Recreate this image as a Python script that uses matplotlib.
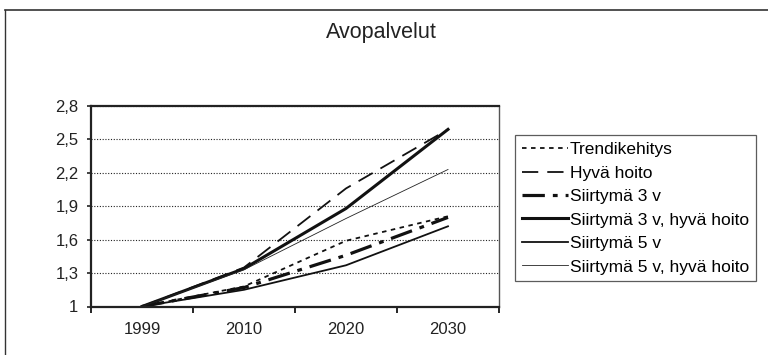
import matplotlib
matplotlib.use('Agg')
import matplotlib.pyplot as plt
from matplotlib.lines import Line2D

plt.rcParams['font.family'] = ['Liberation Sans', 'DejaVu Sans']

years = ['1999', '2010', '2020', '2030']
trendi = [1.0, 1.18, 1.59, 1.81]
hyva_hoito = [1.0, 1.35, 2.06, 2.59]
siirtyma3 = [1.0, 1.17, 1.46, 1.80]
siirtyma3_hyva = [1.0, 1.34, 1.88, 2.59]
siirtyma5 = [1.0, 1.15, 1.37, 1.72]
siirtyma5_hyva = [1.0, 1.33, 1.79, 2.23]
yticks = [1.0, 1.3, 1.6, 1.9, 2.2, 2.5, 2.8]

fig = plt.figure(figsize=(7.68, 3.55), dpi=100)
ax = fig.add_axes([91/768, 1-306.5/355, 408/768, 200.5/355])

# outer frame (left + top only visible)
fig.add_artist(Line2D([4.5/768, 4.5/768], [0, 1-9.5/355], transform=fig.transFigure, color='#333333', lw=1.0))
fig.add_artist(Line2D([4.5/768, 1], [1-9.5/355, 1-9.5/355], transform=fig.transFigure, color='#333333', lw=1.2))

x = range(len(years))
ax.plot(x, trendi, color='#111111', lw=1.3, linestyle=(0, (2.5, 2.5)), label='Trendikehitys')
ax.plot(x, hyva_hoito, color='#111111', lw=1.3, linestyle=(0, (9, 5)), label='Hyvä hoito')
ax.plot(x, siirtyma3, color='#111111', lw=2.3, linestyle=(0, (7, 2.5, 1.5, 2.5)), label='Siirtymä 3 v')
ax.plot(x, siirtyma3_hyva, color='#111111', lw=2.2, label='Siirtymä 3 v, hyvä hoito')
ax.plot(x, siirtyma5, color='#111111', lw=1.3, label='Siirtymä 5 v')
ax.plot(x, siirtyma5_hyva, color='#222222', lw=0.6, label='Siirtymä 5 v, hyvä hoito')

ax.set_xlim(-0.5, 3.5)
ax.set_ylim(1, 2.8)
ax.set_yticks(yticks)
ax.set_yticklabels([f'{v:g}'.replace('.', ',') for v in yticks], fontsize=12)
ax.set_xticks(list(x))
ax.set_xticklabels(years, fontsize=12)
ax.set_xticks([-0.5, 0.5, 1.5, 2.5, 3.5], minor=True)
ax.tick_params(axis='x', which='major', length=0, pad=11, colors='#222222')
ax.tick_params(axis='x', which='minor', length=4, width=1.2, direction='out')
ax.tick_params(axis='y', length=3, width=1.2, direction='out', pad=6, colors='#222222')
ax.grid(axis='y', color='#222222', linestyle=(0, (1, 1.5)), lw=0.8)

for side in ['left', 'bottom', 'top']:
    ax.spines[side].set_linewidth(1.6)
    ax.spines[side].set_color('#222222')
ax.spines['right'].set_linewidth(1.0)
ax.spines['right'].set_color('#555555')

fig.text(381/768, 1-38.3/355, 'Avopalvelut', ha='center', va='baseline', fontsize=15.5, color='#222222')

leg = ax.legend(loc='upper left', bbox_to_anchor=(515/768, 1-135/355), bbox_transform=fig.transFigure,
                fontsize=12.5, frameon=True, fancybox=False, edgecolor='#333333', borderaxespad=0,
                handlelength=2.65, handletextpad=0.1, labelspacing=0.48, borderpad=0.4)
leg.get_frame().set_linewidth(0.9)

fig.savefig('out.png', dpi=100)
